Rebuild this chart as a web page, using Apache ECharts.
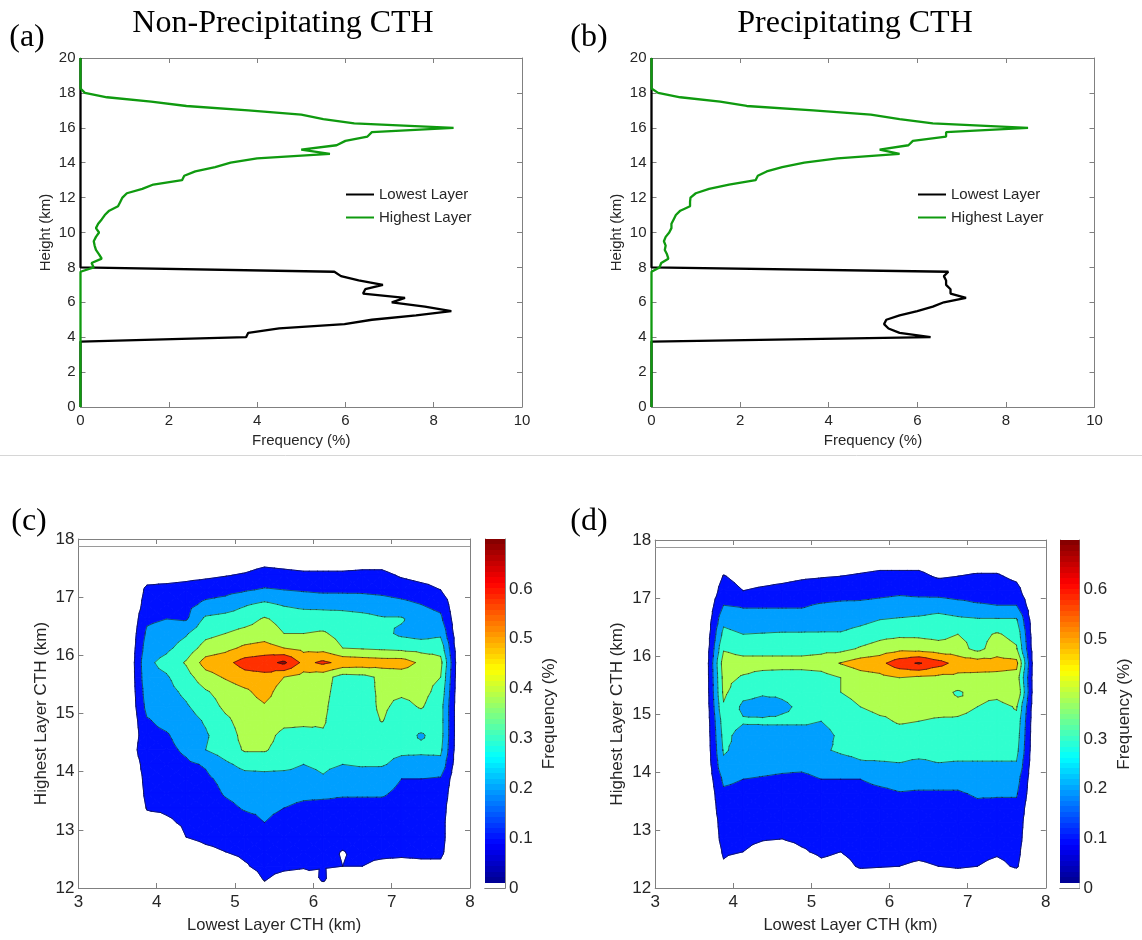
<!DOCTYPE html>
<html><head><meta charset="utf-8">
<script src="https://cdn.jsdelivr.net/npm/echarts@6/dist/echarts.min.js"></script>
<style>html,body{margin:0;padding:0;background:#fff}#chart{width:1142px;height:940px}</style>
</head><body><div id="chart"></div>
<script>
// ---------------- DATA ----------------
// 1-D profiles (frequency % per 0.25 km height bin)
const lowHeights = [0, 3.75, 4.0, 4.25, 4.5, 4.75, 5.0, 5.25, 5.5, 5.75, 6.0, 6.25, 6.5, 6.75, 7.0, 7.25, 7.5, 7.75, 8.0, 20];
const lowFreqNonPrecip = [0, 0, 3.75, 3.8, 4.5, 5.98, 6.6, 7.6, 8.4, 7.8, 7.05, 7.35, 6.4, 6.45, 6.85, 6.3, 5.9, 5.75, 0, 0];
const lowFreqPrecip = [0, 0, 6.3, 5.6, 5.35, 5.25, 5.3, 5.6, 6.0, 6.35, 6.6, 7.1, 6.75, 6.75, 6.65, 6.65, 6.6, 6.7, 0, 0];

const highHeights = [0, 7.75, 8.0, 8.25, 8.5, 8.75, 9.0, 9.25, 9.5, 9.75, 10.0, 10.25, 10.5, 10.75, 11.0, 11.25, 11.5, 11.75,
  12.0, 12.25, 12.5, 12.75, 13.0, 13.25, 13.5, 13.75, 14.0, 14.25, 14.5, 14.75, 15.0, 15.25, 15.5, 15.75,
  16.0, 16.25, 16.5, 16.75, 17.0, 17.25, 17.5, 17.75, 18.0, 18.25, 20];
const highFreqNonPrecip = [0, 0, 0.3, 0.25, 0.48, 0.42, 0.35, 0.32, 0.3, 0.35, 0.42, 0.35, 0.4, 0.48, 0.55, 0.65, 0.85, 0.9,
  0.95, 1.05, 1.4, 1.65, 2.3, 2.35, 2.6, 3.05, 3.4, 4.0, 5.65, 5.0, 5.8, 6.0, 6.5, 6.6,
  8.45, 6.2, 5.5, 5.0, 3.8, 2.4, 1.6, 0.6, 0.1, 0, 0];
const highFreqPrecip = [0, 0, 0.18, 0.22, 0.38, 0.35, 0.3, 0.32, 0.28, 0.32, 0.4, 0.45, 0.45, 0.5, 0.55, 0.65, 0.87, 0.87,
  0.88, 1.0, 1.3, 1.75, 2.35, 2.4, 2.6, 2.95, 3.45, 4.2, 5.6, 5.15, 5.8, 5.9, 6.65, 6.65,
  8.5, 6.35, 5.6, 4.95, 3.65, 2.15, 1.55, 0.65, 0.15, 0, 0];

// 2-D joint histograms (frequency %), bin centres
const lowCTH = [3.625, 3.875, 4.125, 4.375, 4.625, 4.875, 5.125, 5.375, 5.625, 5.875, 6.125, 6.375, 6.625, 6.875, 7.125, 7.375, 7.625, 7.875];
const highCTH = [17.875, 17.625, 17.375, 17.125, 16.875, 16.625, 16.375, 16.125, 15.875, 15.625, 15.375, 15.125,
  14.875, 14.625, 14.375, 14.125, 13.875, 13.625, 13.375, 13.125, 12.875, 12.625, 12.375, 12.125, 11.875];

const jointNonPrecip = [
  [0,0,0,0,0,0,0,0,0,0,0,0,0,0,0,0,0,0],
  [0,0,0.01,0.02,0.03,0.04,0.05,0.07,0.06,0.05,0.05,0.05,0.06,0.06,0.03,0.02,0.01,0],
  [0,0.06,0.06,0.07,0.08,0.095,0.11,0.14,0.13,0.12,0.12,0.12,0.125,0.125,0.09,0.07,0.06,0],
  [0,0.12,0.13,0.14,0.16,0.17,0.19,0.21,0.2,0.19,0.18,0.18,0.18,0.17,0.15,0.13,0.1,0],
  [0,0.14,0.17,0.17,0.22,0.24,0.29,0.32,0.29,0.27,0.27,0.27,0.26,0.25,0.23,0.2,0.17,0],
  [0,0.18,0.2,0.19,0.32,0.34,0.36,0.41,0.37,0.36,0.35,0.34,0.33,0.31,0.31,0.25,0.22,0],
  [0,0.22,0.25,0.29,0.37,0.4,0.43,0.45,0.4,0.4,0.41,0.37,0.35,0.33,0.28,0.26,0.28,0],
  [0,0.25,0.28,0.34,0.44,0.47,0.52,0.54,0.5,0.47,0.46,0.4,0.39,0.38,0.37,0.36,0.36,0],
  [0,0.28,0.33,0.41,0.54,0.57,0.64,0.66,0.72,0.57,0.62,0.57,0.56,0.55,0.55,0.48,0.43,0],
  [0,0.27,0.29,0.36,0.46,0.51,0.56,0.57,0.5,0.46,0.44,0.36,0.37,0.42,0.44,0.43,0.4,0],
  [0,0.25,0.27,0.32,0.39,0.44,0.48,0.54,0.45,0.45,0.43,0.35,0.36,0.42,0.42,0.43,0.37,0],
  [0,0.23,0.25,0.29,0.35,0.42,0.45,0.49,0.44,0.44,0.42,0.34,0.35,0.42,0.37,0.41,0.34,0],
  [0,0.19,0.23,0.26,0.31,0.38,0.44,0.48,0.43,0.42,0.41,0.34,0.35,0.405,0.34,0.35,0.34,0],
  [0,0.17,0.19,0.25,0.29,0.35,0.43,0.44,0.37,0.37,0.39,0.35,0.34,0.34,0.34,0.29,0.34,0],
  [0,0.2,0.17,0.22,0.3,0.35,0.41,0.41,0.36,0.35,0.4,0.34,0.34,0.33,0.32,0.32,0.32,0],
  [0,0.15,0.15,0.18,0.21,0.28,0.33,0.33,0.33,0.3,0.32,0.3,0.31,0.31,0.27,0.26,0.27,0],
  [0,0.13,0.13,0.15,0.18,0.23,0.26,0.27,0.26,0.26,0.29,0.25,0.25,0.24,0.2,0.2,0.19,0],
  [0,0.12,0.12,0.13,0.15,0.21,0.24,0.25,0.23,0.22,0.22,0.21,0.21,0.21,0.18,0.17,0.16,0],
  [0,0.105,0.11,0.12,0.13,0.17,0.21,0.22,0.2,0.18,0.17,0.17,0.17,0.17,0.16,0.15,0.14,0],
  [0,0.07,0.09,0.11,0.13,0.14,0.16,0.2,0.17,0.16,0.15,0.16,0.15,0.15,0.15,0.14,0.13,0],
  [0,0.04,0.06,0.1,0.12,0.13,0.14,0.19,0.15,0.15,0.14,0.13,0.14,0.14,0.14,0.13,0.13,0],
  [0,0.02,0.03,0.05,0.08,0.1,0.12,0.14,0.13,0.13,0.12,0.097,0.12,0.12,0.12,0.12,0.12,0],
  [0,0,0.01,0.02,0.03,0.05,0.09,0.13,0.12,0.11,0.105,0.1,0.1,0.08,0.07,0.08,0.08,0],
  [0,0,0,0,0,0.01,0.03,0.102,0.06,0.05,0.106,0.04,0.03,0.02,0.02,0.02,0.02,0],
  [0,0,0,0,0,0,0,0,0,0,0,0,0,0,0,0,0,0]
];

const jointPrecip = [
  [0,0,0,0,0,0,0,0,0,0,0,0,0,0,0,0,0,0],
  [0,0.05,0.02,0.02,0.03,0.04,0.05,0.05,0.06,0.07,0.07,0.07,0.05,0.06,0.06,0.06,0.04,0],
  [0,0.105,0.07,0.075,0.08,0.09,0.095,0.1,0.11,0.12,0.12,0.12,0.09,0.1,0.11,0.11,0.08,0],
  [0,0.14,0.1,0.11,0.12,0.13,0.14,0.15,0.16,0.17,0.18,0.17,0.16,0.15,0.15,0.15,0.13,0],
  [0,0.2,0.19,0.19,0.19,0.19,0.21,0.22,0.22,0.23,0.24,0.24,0.25,0.23,0.21,0.2,0.2,0],
  [0,0.27,0.24,0.24,0.24,0.24,0.25,0.25,0.27,0.3,0.31,0.32,0.34,0.32,0.31,0.31,0.31,0],
  [0,0.33,0.3,0.305,0.31,0.31,0.31,0.31,0.34,0.37,0.38,0.38,0.37,0.4,0.37,0.41,0.37,0],
  [0,0.39,0.36,0.36,0.36,0.36,0.37,0.37,0.41,0.44,0.47,0.46,0.44,0.44,0.37,0.45,0.41,0],
  [0,0.45,0.44,0.44,0.44,0.44,0.45,0.505,0.55,0.57,0.66,0.71,0.64,0.56,0.55,0.54,0.53,0],
  [0,0.43,0.39,0.36,0.35,0.35,0.36,0.4,0.45,0.47,0.5,0.48,0.47,0.47,0.47,0.47,0.46,0],
  [0,0.42,0.33,0.31,0.31,0.32,0.34,0.4,0.44,0.45,0.44,0.44,0.43,0.39,0.43,0.44,0.5,0],
  [0,0.39,0.28,0.27,0.29,0.31,0.33,0.35,0.4,0.43,0.43,0.43,0.43,0.42,0.4,0.36,0.41,0],
  [0,0.35,0.31,0.31,0.31,0.31,0.3,0.32,0.35,0.38,0.41,0.4,0.39,0.39,0.38,0.36,0.37,0],
  [0,0.33,0.26,0.27,0.27,0.27,0.28,0.31,0.34,0.35,0.36,0.36,0.36,0.35,0.35,0.35,0.35,0],
  [0,0.31,0.27,0.26,0.26,0.27,0.29,0.31,0.32,0.33,0.33,0.33,0.33,0.33,0.33,0.33,0.33,0],
  [0,0.28,0.25,0.24,0.23,0.23,0.25,0.27,0.29,0.29,0.295,0.28,0.295,0.29,0.29,0.29,0.29,0],
  [0,0.22,0.2,0.19,0.18,0.17,0.2,0.2,0.2,0.22,0.23,0.23,0.23,0.23,0.25,0.25,0.24,0],
  [0,0.18,0.17,0.16,0.155,0.15,0.16,0.17,0.17,0.18,0.195,0.19,0.19,0.19,0.21,0.21,0.21,0],
  [0,0.16,0.15,0.14,0.14,0.14,0.15,0.15,0.15,0.16,0.16,0.16,0.16,0.16,0.18,0.17,0.17,0],
  [0,0.14,0.14,0.13,0.13,0.13,0.14,0.14,0.15,0.15,0.15,0.15,0.15,0.15,0.15,0.15,0.15,0],
  [0,0.13,0.12,0.11,0.105,0.12,0.13,0.13,0.14,0.14,0.14,0.14,0.14,0.14,0.14,0.13,0.14,0],
  [0,0.11,0.1,0.07,0.06,0.09,0.115,0.1,0.125,0.12,0.12,0.115,0.12,0.125,0.12,0.11,0.125,0],
  [0,0.09,0.06,0.03,0.03,0.04,0.08,0.07,0.11,0.105,0.1,0.09,0.1,0.11,0.1,0.08,0.11,0],
  [0,0.02,0.01,0,0,0.01,0.02,0.02,0.04,0.04,0.03,0.03,0.03,0.04,0.03,0.02,0.03,0],
  [0,0,0,0,0,0,0,0,0,0,0,0,0,0,0,0,0,0]
];

const contourLevels = [0.1, 0.2, 0.3, 0.4, 0.5, 0.6, 0.7];
const bandColors = ['#0010ff', '#009fff', '#30ffcf', '#b0ff4f', '#ffb200', '#ff3000', '#a00000'];
const colorbarMax = 0.7;

// ---------------- HELPERS ----------------
const SANS = '"Liberation Sans", Arial, Helvetica, sans-serif';
const SERIF = '"Liberation Serif", "Times New Roman", serif';
const FRAME = '#808080', TXT = '#262626';

function mkAxis(o) {
  const a = {
    type: 'value', gridIndex: o.grid, min: o.min, max: o.max, interval: o.interval,
    position: o.position,
    axisLine: { show: true, onZero: false, lineStyle: { color: FRAME, width: 1 } },
    axisTick: { show: true, inside: true, length: o.tick || 5, lineStyle: { color: FRAME, width: 1 } },
    splitLine: { show: false },
    axisLabel: { show: !!o.labels, color: TXT, fontFamily: SANS, fontSize: o.fontSize || 15, margin: o.margin || 6,
      showMaxLabel: o.showMax !== false },
  };
  if (o.name) {
    a.name = o.name; a.nameLocation = 'middle'; a.nameGap = o.nameGap;
    if (o.nameRotate !== undefined) a.nameRotate = o.nameRotate;
    a.nameTextStyle = { color: TXT, fontFamily: SANS, fontSize: o.nameSize || 15 };
  }
  return a;
}

function jetColor(t) {
  const c = v => Math.max(0, Math.min(1, v));
  const r = c(1.5 - Math.abs(4 * t - 3)), g = c(1.5 - Math.abs(4 * t - 2)), b = c(1.5 - Math.abs(4 * t - 1));
  return 'rgb(' + Math.round(r * 255) + ',' + Math.round(g * 255) + ',' + Math.round(b * 255) + ')';
}
const cbStops = [];
for (let k = 0; k < 64; k++) {
  const col = k === 0 ? '#ffffff' : jetColor((k + 0.5) / 64);
  cbStops.push({ offset: k / 64, color: col }, { offset: (k + 1) / 64, color: col });
}

function buildCells(xs, ys) {
  const cells = [];
  for (let j = 0; j < ys.length - 1; j++)
    for (let i = 0; i < xs.length - 1; i++)
      cells.push([xs[i], ys[j], xs[i + 1], ys[j + 1], i, j]);
  return cells;
}
function clip(poly, L, keepAbove) {
  const out = [], n = poly.length;
  for (let k = 0; k < n; k++) {
    const a = poly[k], b = poly[(k + 1) % n];
    const ia = keepAbove ? a[2] >= L : a[2] < L;
    const ib = keepAbove ? b[2] >= L : b[2] < L;
    if (ia) out.push(a);
    if (ia !== ib) {
      const t = (L - a[2]) / (b[2] - a[2]);
      out.push([a[0] + t * (b[0] - a[0]), a[1] + t * (b[1] - a[1]), L]);
    }
  }
  return out;
}
function polyArea(p) {
  let s = 0;
  for (let k = 0; k < p.length; k++) {
    const a = p[k], b = p[(k + 1) % p.length];
    s += a[0] * b[1] - b[0] * a[1];
  }
  return Math.abs(s) / 2;
}
function cellTriangles(api, G) {
  const i = api.value(4), j = api.value(5);
  const pts = [[i, j], [i + 1, j], [i + 1, j + 1], [i, j + 1]].map(function (q) {
    const p = api.coord([G.xs[q[0]], G.ys[q[1]]]);
    return [p[0], p[1], G.z[q[1]][q[0]]];
  });
  const c = [(pts[0][0] + pts[2][0]) / 2, (pts[0][1] + pts[2][1]) / 2,
    (pts[0][2] + pts[1][2] + pts[2][2] + pts[3][2]) / 4];
  return [[pts[0], pts[1], c], [pts[1], pts[2], c], [pts[2], pts[3], c], [pts[3], pts[0], c]];
}
function renderFill(G) {
  return function (params, api) {
    const children = [];
    cellTriangles(api, G).forEach(function (tri) {
      for (let k = 0; k < contourLevels.length; k++) {
        let poly = clip(tri, contourLevels[k], true);
        if (poly.length < 3) continue;
        if (k + 1 < contourLevels.length) poly = clip(poly, contourLevels[k + 1], false);
        if (poly.length < 3 || polyArea(poly) < 0.3) continue;
        children.push({ type: 'polygon', silent: true,
          shape: { points: poly.map(p => [p[0], p[1]]) },
          style: { fill: bandColors[k], stroke: bandColors[k], lineWidth: 1, lineJoin: 'round' } });
      }
    });
    return { type: 'group', children: children };
  };
}
function renderLines(G) {
  return function (params, api) {
    const children = [];
    cellTriangles(api, G).forEach(function (tri) {
      contourLevels.forEach(function (L) {
        const seg = [];
        for (let k = 0; k < 3; k++) {
          const a = tri[k], b = tri[(k + 1) % 3];
          if ((a[2] >= L) !== (b[2] >= L)) {
            const t = (L - a[2]) / (b[2] - a[2]);
            seg.push([a[0] + t * (b[0] - a[0]), a[1] + t * (b[1] - a[1])]);
          }
        }
        if (seg.length === 2 && Math.hypot(seg[0][0] - seg[1][0], seg[0][1] - seg[1][1]) > 0.05)
          children.push({ type: 'line', silent: true,
            shape: { x1: seg[0][0], y1: seg[0][1], x2: seg[1][0], y2: seg[1][1] },
            style: { stroke: '#1a1a1a', lineWidth: 0.6, lineCap: 'round' } });
      });
    });
    return { type: 'group', children: children };
  };
}

const GC = { xs: lowCTH, ys: highCTH, z: jointNonPrecip };
const GD = { xs: lowCTH, ys: highCTH, z: jointPrecip };
const cells = buildCells(lowCTH, highCTH);
const pairs = (xs, ys) => xs.map((v, k) => [v, ys[k]]);

// ---------------- OPTION ----------------
const chart = echarts.init(document.getElementById('chart'), null, { renderer: 'canvas' });

const grids = [
  { left: 80.5, top: 58, width: 441.5, height: 349 },   // a
  { left: 651.5, top: 58, width: 443, height: 349 },    // b
  { left: 78.4, top: 539, width: 391.6, height: 349 },  // c
  { left: 655.2, top: 540, width: 390.6, height: 348 }, // d
  { left: 485, top: 539, width: 20, height: 349 },      // colorbar c
  { left: 1060, top: 540, width: 19.5, height: 348 }    // colorbar d
].map(g => Object.assign({ containLabel: false, outerBoundsMode: 'none' }, g));

const xAxes = [
  mkAxis({ grid: 0, min: 0, max: 10, interval: 2, position: 'bottom', labels: true, margin: 6,
    name: 'Frequency (%)', nameGap: 26 }),
  mkAxis({ grid: 0, min: 0, max: 10, interval: 2, position: 'top' }),
  mkAxis({ grid: 1, min: 0, max: 10, interval: 2, position: 'bottom', labels: true, margin: 6,
    name: 'Frequency (%)', nameGap: 26 }),
  mkAxis({ grid: 1, min: 0, max: 10, interval: 2, position: 'top' }),
  mkAxis({ grid: 2, min: 3, max: 8, interval: 1, position: 'bottom', labels: true, fontSize: 17, margin: 6,
    name: 'Lowest Layer CTH (km)', nameGap: 29, nameSize: 16.5 }),
  mkAxis({ grid: 2, min: 3, max: 8, interval: 1, position: 'top' }),
  mkAxis({ grid: 3, min: 3, max: 8, interval: 1, position: 'bottom', labels: true, fontSize: 17, margin: 6,
    name: 'Lowest Layer CTH (km)', nameGap: 29, nameSize: 16.5 }),
  mkAxis({ grid: 3, min: 3, max: 8, interval: 1, position: 'top' })
];
[4, 5].forEach(function (g) {
  ['bottom', 'top'].forEach(function (pos) {
    xAxes.push({ type: 'category', gridIndex: g, data: [''], position: pos, boundaryGap: true,
      axisLine: { show: true, lineStyle: { color: FRAME, width: 1 } },
      axisTick: { show: false }, axisLabel: { show: false }, splitLine: { show: false } });
  });
});

const yAxes = [
  mkAxis({ grid: 0, min: 0, max: 20, interval: 2, position: 'left', labels: true, margin: 5,
    name: 'Height (km)', nameGap: 27 }),
  mkAxis({ grid: 0, min: 0, max: 20, interval: 2, position: 'right' }),
  mkAxis({ grid: 1, min: 0, max: 20, interval: 2, position: 'left', labels: true, margin: 5,
    name: 'Height (km)', nameGap: 27 }),
  mkAxis({ grid: 1, min: 0, max: 20, interval: 2, position: 'right' }),
  mkAxis({ grid: 2, min: 12, max: 18, interval: 1, position: 'left', labels: true, fontSize: 17, margin: 4,
    name: 'Highest Layer CTH (km)', nameGap: 29, nameSize: 17 }),
  mkAxis({ grid: 2, min: 12, max: 18, interval: 1, position: 'right' }),
  mkAxis({ grid: 3, min: 12, max: 18, interval: 1, position: 'left', labels: true, fontSize: 17, margin: 4,
    name: 'Highest Layer CTH (km)', nameGap: 29, nameSize: 17 }),
  mkAxis({ grid: 3, min: 12, max: 18, interval: 1, position: 'right' }),
  mkAxis({ grid: 4, min: 0, max: colorbarMax, interval: 0.1, position: 'right', labels: true, fontSize: 17, tick: 4,
    margin: 4, showMax: false, name: 'Frequency (%)', nameGap: 36, nameRotate: 90, nameSize: 17 }),
  mkAxis({ grid: 4, min: 0, max: colorbarMax, interval: 0.1, position: 'left', tick: 4 }),
  mkAxis({ grid: 5, min: 0, max: colorbarMax, interval: 0.1, position: 'right', labels: true, fontSize: 17, tick: 4,
    margin: 4, showMax: false, name: 'Frequency (%)', nameGap: 36, nameRotate: 90, nameSize: 17 }),
  mkAxis({ grid: 5, min: 0, max: colorbarMax, interval: 0.1, position: 'left', tick: 4 })
];

const GREEN = '#0f9a0f';
const lineSeries = function (name, xi, yi, xs, ys, color) {
  return { type: 'line', name: name, xAxisIndex: xi, yAxisIndex: yi, data: pairs(xs, ys),
    symbol: 'none', showSymbol: false, smooth: false, clip: false,
    lineStyle: { color: color, width: 2.3 }, itemStyle: { color: color }, z: 3 };
};

const contourSeries = function (xi, yi, G) {
  return [
    { type: 'custom', xAxisIndex: xi, yAxisIndex: yi, data: cells, encode: { x: [0, 2], y: [1, 3] },
      renderItem: renderFill(G), silent: true, z: 2,
      markLine: { silent: true, symbol: 'none', label: { show: false },
        lineStyle: { color: '#9a9a9a', width: 1, type: 'solid' }, data: [{ yAxis: 17.88 }] } },
    { type: 'custom', xAxisIndex: xi, yAxisIndex: yi, data: cells, encode: { x: [0, 2], y: [1, 3] },
      renderItem: renderLines(G), silent: true, z: 3 }
  ];
};

const colorbarSeries = function (xi, yi) {
  return { type: 'bar', xAxisIndex: xi, yAxisIndex: yi, data: [colorbarMax], barWidth: '100%', silent: true,
    itemStyle: { color: new echarts.graphic.LinearGradient(0, 1, 0, 0, cbStops) } };
};

const legendBase = { orient: 'vertical', itemWidth: 28, itemHeight: 14, itemGap: 8, padding: 0, selectedMode: false,
  itemStyle: { opacity: 0, borderWidth: 0 },
  textStyle: { color: TXT, fontFamily: SANS, fontSize: 15 }, data: ['Lowest Layer', 'Highest Layer'] };

const txt = (text, x, y, size, family) => ({ type: 'text', x: x, y: y, silent: true,
  style: { text: text, fill: '#000', font: size + 'px ' + family, textAlign: 'center', textVerticalAlign: 'middle' } });

const option = {
  animation: false,
  backgroundColor: '#ffffff',
  grid: grids,
  xAxis: xAxes,
  yAxis: yAxes,
  legend: [Object.assign({ left: 345, top: 187 }, legendBase), Object.assign({ left: 917, top: 187 }, legendBase)],
  series: [
    lineSeries('Lowest Layer', 0, 0, lowFreqNonPrecip, lowHeights, '#000000'),
    lineSeries('Highest Layer', 0, 0, highFreqNonPrecip, highHeights, GREEN),
    lineSeries('Lowest Layer', 2, 2, lowFreqPrecip, lowHeights, '#000000'),
    lineSeries('Highest Layer', 2, 2, highFreqPrecip, highHeights, GREEN),
    ...contourSeries(4, 4, GC),
    ...contourSeries(6, 6, GD),
    colorbarSeries(8, 8),
    colorbarSeries(10, 10)
  ],
  graphic: [
    { type: 'line', silent: true, shape: { x1: 0, y1: 455.5, x2: 1142, y2: 455.5 }, style: { stroke: '#d6d6d6', lineWidth: 1 } },
    txt('(a)', 27, 38, 32, SERIF),
    txt('Non-Precipitating CTH', 283, 24, 32, SERIF),
    txt('(b)', 589, 38, 32, SERIF),
    txt('Precipitating CTH', 855, 24, 32, SERIF),
    txt('(c)', 29, 522, 32, SERIF),
    txt('(d)', 589, 522, 32, SERIF)
  ]
};
chart.setOption(option);
</script></body></html>
